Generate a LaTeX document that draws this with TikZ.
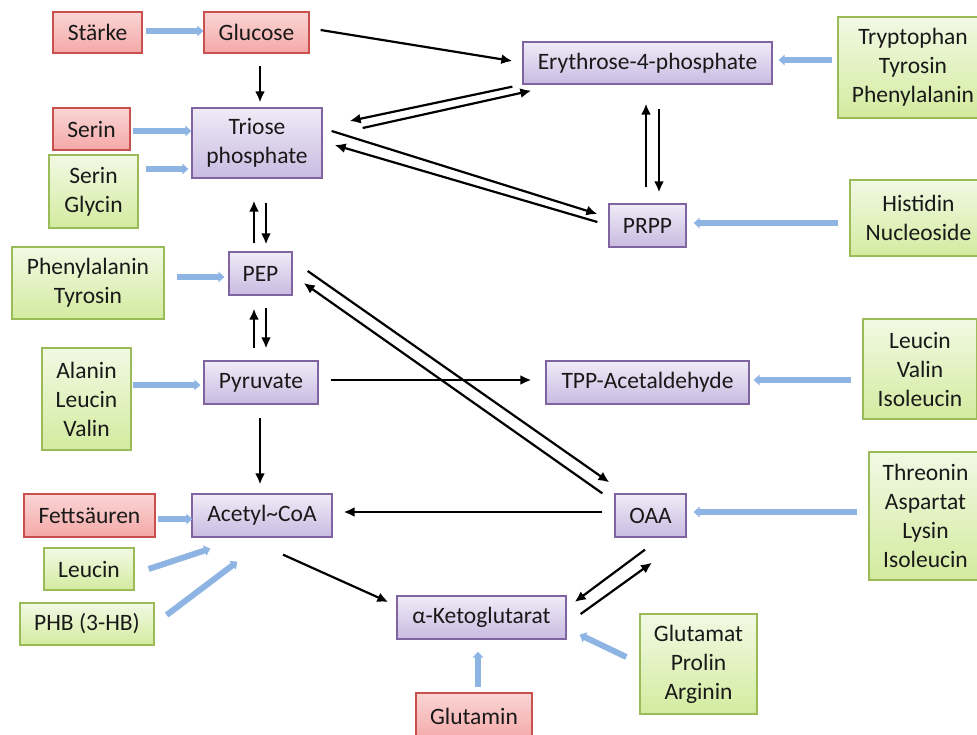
\documentclass[tikz,border=0pt]{standalone}
\usepackage{fontspec}
\setmainfont{Carlito}
\usetikzlibrary{arrows.meta,calc}

\definecolor{redtop}{HTML}{F9D6D5}
\definecolor{redbot}{HTML}{F4A8A7}
\definecolor{redline}{HTML}{C9504D}
\definecolor{greentop}{HTML}{F2F9E4}
\definecolor{greenbot}{HTML}{D3EB9F}
\definecolor{greenline}{HTML}{9BBB59}
\definecolor{purptop}{HTML}{EFEBF6}
\definecolor{purpbot}{HTML}{C9BBE2}
\definecolor{purpline}{HTML}{8064A2}
\definecolor{feedblue}{HTML}{8DB4E2}

\begin{document}
\begin{tikzpicture}[x=1pt,y=-1pt,
  box/.style={draw, line width=1.3pt, inner sep=0pt, align=center,
    font=\fontsize{23.5}{29}\selectfont, text=black!90},
  redbox/.style={box, draw=redline, top color=redtop, bottom color=redbot},
  greenbox/.style={box, draw=greenline, top color=greentop, bottom color=greenbot},
  purpbox/.style={box, draw=purpline, top color=purptop, bottom color=purpbot},
  sz/.style 2 args={minimum width=#1pt, minimum height=#2pt},
  react/.style={line width=2.2pt, -{Latex[length=11pt,width=10pt]}},
  feed/.style={line width=6pt, color=feedblue, -{Triangle[length=6pt,width=10.5pt]}}]
\useasboundingbox (0,0) rectangle (977,734);
\clip (0,0) rectangle (977,734);

% central metabolites
\node[purpbox, sz={130}{70}] (tri) at (257,143) {Triose\\phosphate};
\node[purpbox, sz={249}{42}] (ery) at (647.5,63) {Erythrose-4-phosphate};
\node[purpbox, sz={77}{43}] (prpp) at (647.5,225.5) {PRPP};
\node[purpbox, sz={63}{43}] (pep) at (260.5,273.5) {PEP};
\node[purpbox, sz={114}{43}] (pyr) at (261,382.5) {Pyruvate};
\node[purpbox, sz={203}{43}] (tpp) at (647.5,382.5) {TPP-Acetaldehyde};
\node[purpbox, sz={71}{43}] (oaa) at (650.5,515.5) {OAA};
\node[purpbox, sz={140}{43}] (acet) at (262,515.5) {Acetyl\textasciitilde CoA};
\node[purpbox, sz={169}{43}] (akg) at (481.5,617.5) {α-Ketoglutarat};

% carbohydrate / lipid sources
\node[redbox, sz={89}{41}] (stk) at (97.5,32.5) {Stärke};
\node[redbox, sz={105}{41}] (glu) at (256.5,32.5) {Glucose};
\node[redbox, sz={77}{42}] (serR) at (91.5,129) {Serin};
\node[redbox, sz={131}{43}] (fett) at (89.5,515.5) {Fettsäuren};
\node[redbox, sz={116}{47}] (gln) at (474,716.5) {Glutamin};

% amino acid sources
\node[greenbox, sz={89}{73}] (serG) at (93.5,191.5) {Serin\\Glycin};
\node[greenbox, sz={150}{101}] (trp) at (913,67.5) {Tryptophan\\Tyrosin\\Phenylalanin};
\node[greenbox, sz={137}{76}] (his) at (918.5,218) {Histidin\\Nucleoside};
\node[greenbox, sz={152}{72}] (phe) at (88,283) {Phenylalanin\\Tyrosin};
\node[greenbox, sz={89}{102}] (ala) at (86.5,399) {Alanin\\Leucin\\Valin};
\node[greenbox, sz={114}{100}] (lvi) at (920,369) {Leucin\\Valin\\Isoleucin};
\node[greenbox, sz={113}{128}] (thr) at (925.5,516) {Threonin\\Aspartat\\Lysin\\Isoleucin};
\node[greenbox, sz={90}{42}] (leu) at (89,569) {Leucin};
\node[greenbox, sz={134}{42}] (phb) at (87,624) {PHB (3-HB)};
\node[greenbox, sz={117}{100}] (glu2) at (698.5,664) {Glutamat\\Prolin\\Arginin};

% reactions between metabolites
\draw[react] ($(glu.east)+(11,-2.5)$) -- ($(ery.west)+(-10,-2)$);
\draw[react] ($(ery.south west)+(-10,2)$) -- ($(tri.east)+(27,-22)$);
\draw[react] ($(tri.east)+(40,-15)$) -- ($(ery.south west)+(9,6)$);
\draw[react] ($(tri.east)+(9,-12)$) -- ($(prpp.west)+(-11,-11.5)$);
\draw[react] ($(prpp.west)+(-11,-3.5)$) -- ($(tri.east)+(12,2)$);
\draw[react] ($(prpp.north)+(-1.5,-16)$) -- ($(ery.south)+(-1.5,19)$);
\draw[react] ($(ery.south)+(11.5,24)$) -- ($(prpp.north)+(11.5,-11)$);
\draw[react] ($(glu.south)+(3.5,12)$) -- ($(tri.north)+(3,-5)$);
\draw[react] ($(pep.north)+(-6.5,-8)$) -- ($(tri.south)+(-3,22)$);
\draw[react] ($(tri.south)+(9,24)$) -- ($(pep.north)+(5.5,-7)$);
\draw[react] ($(pyr.north)+(-7,-12)$) -- ($(pep.south)+(-6.5,13)$);
\draw[react] ($(pep.south)+(5.5,12)$) -- ($(pyr.north)+(5,-12)$);
\draw[react] ($(pyr.south)+(-1,13)$) -- ($(acet.north)+(-2,-9)$);
\draw[react] ($(pyr.east)+(12,-2.5)$) -- ($(tpp.west)+(-14,-2.5)$);
\draw[react] ($(pep.east)+(15,-2.5)$) -- ($(oaa.north west)+(-5,-11)$);
\draw[react] ($(oaa.north west)+(-12,0)$) -- ($(pep.east)+(11,9.5)$);
\draw[react] ($(oaa.west)+(-12,-3.5)$) -- ($(acet.east)+(11,-3.5)$);
\draw[react] ($(acet.south)+(21,17)$) -- ($(akg.west)+(-8,-15.5)$);
\draw[react] ($(oaa.south)+(-5.5,12)$) -- ($(akg.east)+(8,-15.5)$);
\draw[react] ($(akg.east)+(14,-3.5)$) -- ($(oaa.south)+(1.5,25)$);

% feeding pathways
\draw[feed] ($(stk.east)+(3,-1.5)$) -- ($(glu.west)+(0,-1.5)$);
\draw[feed] ($(serR.east)+(2,2)$) -- ($(tri.west)+(0,-12)$);
\draw[feed] ($(serG.east)+(7,-22.5)$) -- ($(tri.west)+(-3,26)$);
\draw[feed] ($(phe.east)+(12,-6)$) -- ($(pep.west)+(-4,3.5)$);
\draw[feed] ($(ala.east)+(1,-14)$) -- ($(pyr.west)+(-3,2.5)$);
\draw[feed] ($(fett.east)+(2,3.5)$) -- ($(acet.west)+(1,3.5)$);
\draw[feed] ($(leu.east)+(14,0)$) -- ($(acet.south west)+(19,11)$);
\draw[feed] ($(phb.east)+(12,-9)$) -- ($(acet.south west)+(46,24)$);
\draw[feed] ($(trp.west)+(-5,-7.5)$) -- ($(ery.east)+(6,-3)$);
\draw[feed] ($(his.west)+(-11,5)$) -- ($(prpp.east)+(7,-2.5)$);
\draw[feed] ($(lvi.west)+(-11,11)$) -- ($(tpp.east)+(4,-2.5)$);
\draw[feed] ($(thr.west)+(-11,-4)$) -- ($(oaa.east)+(7,-3.5)$);
\draw[feed] ($(gln.north)+(4,-5)$) -- ($(akg.south)+(-3.5,12)$);
\draw[feed] ($(glu2.west)+(-13,-7)$) -- ($(akg.south east)+(13,-5)$);
\end{tikzpicture}
\end{document}
